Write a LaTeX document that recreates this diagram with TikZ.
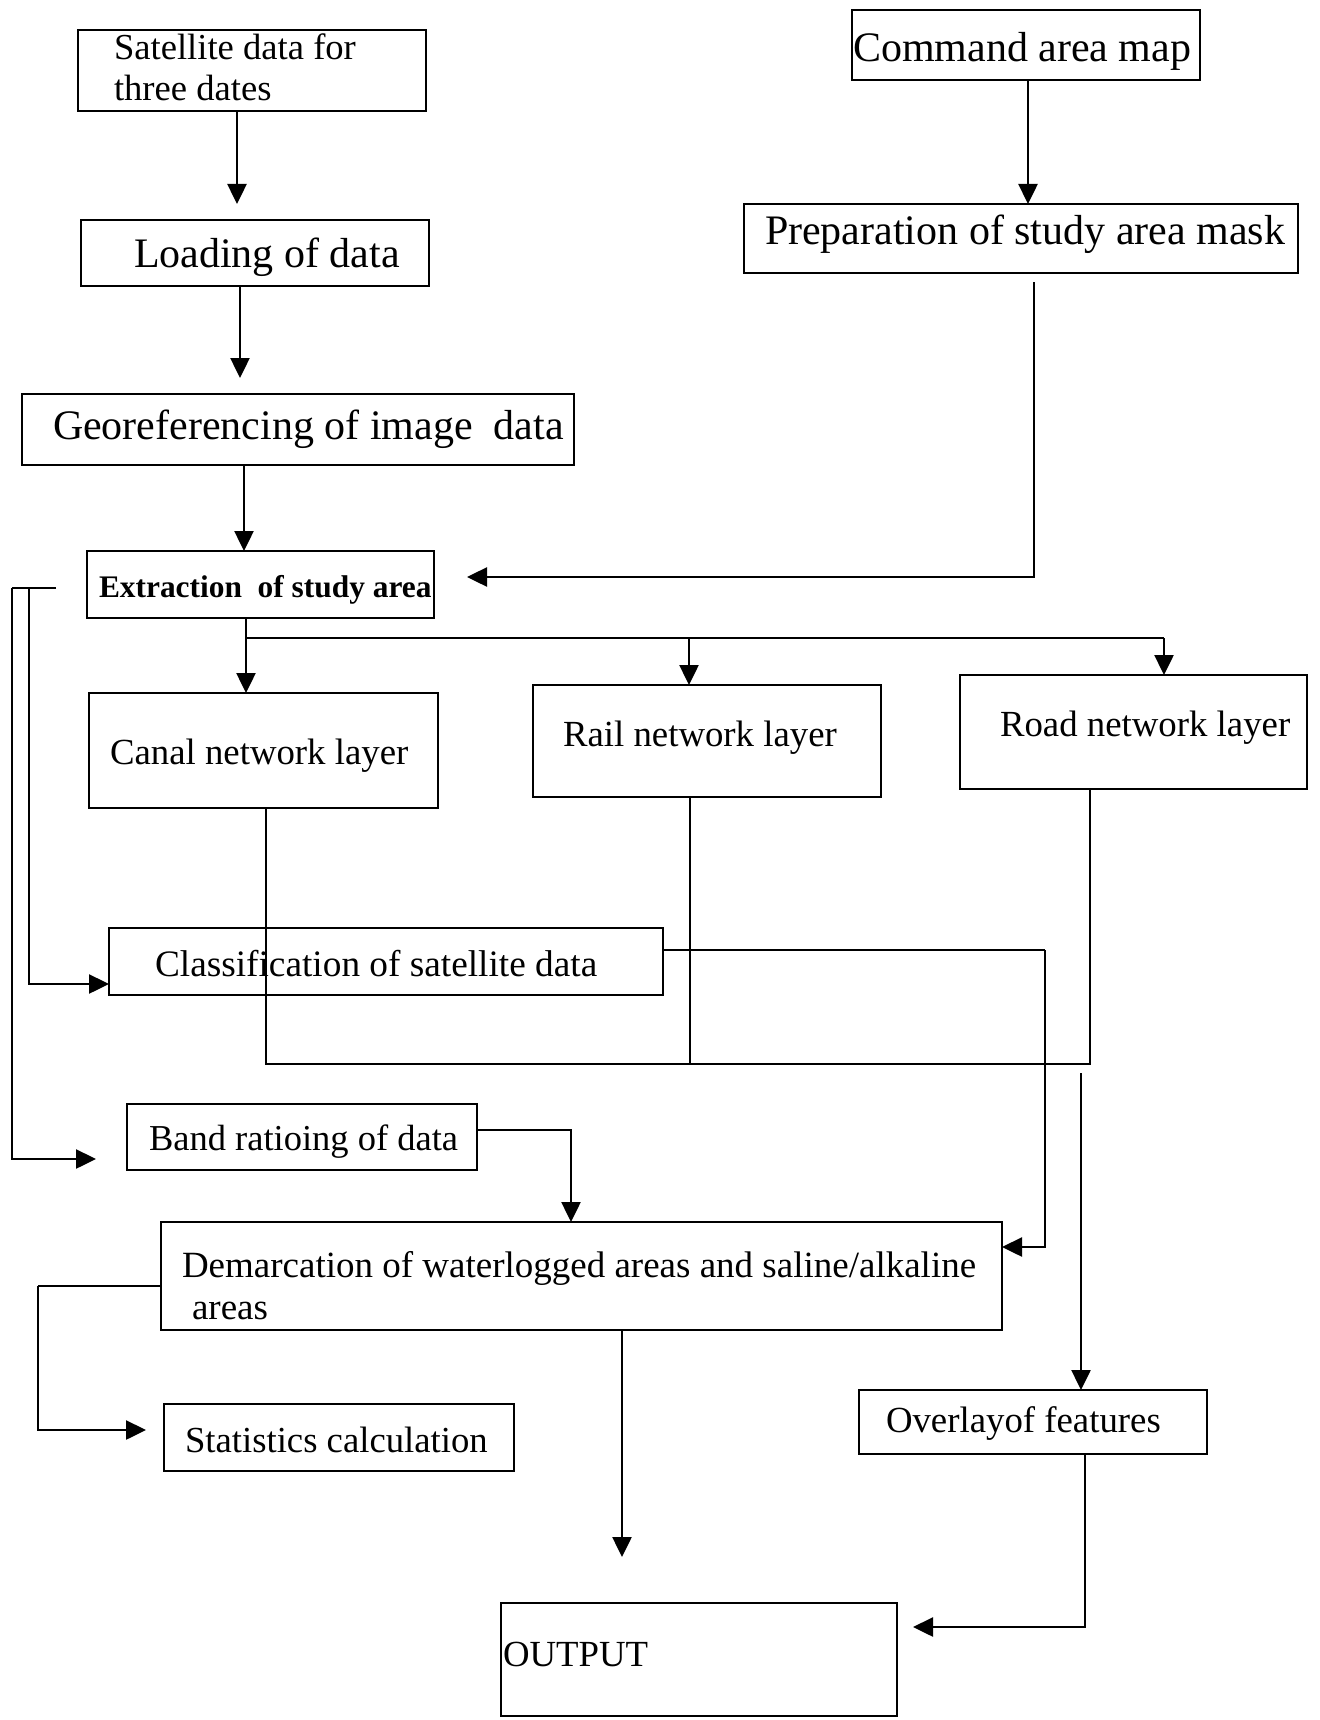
\documentclass[tikz,border=0pt]{standalone}
\usepackage{fontspec}
\setmainfont{Liberation Serif}
\usetikzlibrary{arrows.meta,calc}
\newcommand{\mybox}[5]{%
  \pgfmathsetmacro{\bxw}{#4-#2}%
  \pgfmathsetmacro{\bxh}{#5-#3}%
  \node[box, minimum width=\bxw pt, minimum height=\bxh pt] (#1) at ({(#2+#4)/2},{(#3+#5)/2}) {};}
\newcommand{\boxtext}[5]{%
  \node[txt, font=\fontsize{#4}{#4}\selectfont] (#1) at (#2,#3) {#5};}
\begin{document}
\begin{tikzpicture}[x=1pt,y=-1pt,
  box/.style={draw, line width=2.5pt, inner sep=0pt, outer sep=0pt, rectangle},
  txt/.style={anchor=base west, inner sep=0pt, outer sep=0pt},
  arr/.style={line width=2.5pt, -{Triangle[length=20pt,width=19pt]}},
  ln/.style={line width=2.5pt}]
\fill[white] (0,0) rectangle (1319,1720);
\useasboundingbox (0,0) rectangle (1319,1720);

% boxes
\mybox{sat}{78}{30}{426}{111}
\mybox{load}{81}{220}{429}{286}
\mybox{geo}{22}{394}{574}{465}
\mybox{ext}{87}{551}{434}{618}
\mybox{cmd}{852}{10}{1200}{80}
\mybox{prep}{744}{204}{1298}{273}
\mybox{canal}{89}{693}{438}{808}
\mybox{rail}{533}{685}{881}{797}
\mybox{road}{960}{675}{1307}{789}
\mybox{cls}{109}{928}{663}{995}
\mybox{band}{127}{1104}{477}{1170}
\mybox{dem}{161}{1222}{1002}{1330}
\mybox{stat}{164}{1404}{514}{1471}
\mybox{ovl}{859}{1390}{1207}{1454}
\mybox{out}{501}{1603}{897}{1716}

% texts
\boxtext{tsatA}{114}{60}{36.6}{Satellite data for}
\boxtext{tsatB}{114}{101}{36.6}{three dates}
\boxtext{tload}{134}{267}{42}{Loading of data}
\boxtext{tgeo}{53}{439}{42}{Georeferencing of image\ \ data}
\boxtext{text}{99}{597}{31.4}{\bfseries Extraction\ \ of study area}
\boxtext{tcmd}{853}{62}{42}{Command area map}
\boxtext{tprep}{765}{245}{42}{Preparation of study area mask}
\boxtext{tcanal}{110}{764}{36.8}{Canal network layer}
\boxtext{trail}{563}{746}{36.8}{Rail network layer}
\boxtext{troad}{1000}{736}{36.8}{Road network layer}
\boxtext{tcls}{155}{976}{37.3}{Classification of satellite data}
\boxtext{tband}{149}{1150}{36.5}{Band ratioing of data}
\boxtext{tdemA}{182}{1277}{37}{Demarcation of waterlogged areas and saline/alkaline}
\boxtext{tdemB}{192}{1319}{37}{areas}
\boxtext{tstat}{185}{1452}{36.7}{Statistics calculation}
\boxtext{tovl}{886}{1432}{36.8}{Overlayof features}
\boxtext{tout}{503}{1666}{36.8}{OUTPUT}

% named helper coordinates
\coordinate (br) at (246,638);
\coordinate (mergeL) at (266,1064);
\coordinate (mergeR) at (1090,1064);
\coordinate (ovin) at (1081,1073);
\coordinate (stub) at (56,588);
\coordinate (lo) at (12,588);
\coordinate (li) at (29,588);
\coordinate (cr) at (1045,950);
\coordinate (dl) at (38,1286);

% connectors
\draw[arr, shorten >=16pt] (237,0 |- sat.south) -- (237,0 |- load.north);
\draw[arr, shorten >=16pt] (240,0 |- load.south) -- (240,0 |- geo.north);
\draw[arr] (244,0 |- geo.south) -- (244,0 |- ext.north);
\draw[arr] (1028,0 |- cmd.south) -- (1028,0 |- prep.north);
\draw[arr, shorten <=9pt, shorten >=33pt] (1034,0 |- prep.south) |- ([yshift=7.5pt]ext.east);

\draw[arr] (br |- ext.south) -- (br |- canal.north);
\draw[ln] (br) -- (1164,638);
\draw[arr] (689,638) -- (689,0 |- rail.north);
\draw[arr] (1164,638) -- (1164,0 |- road.north);

\draw[ln] (canal.south -| mergeL) -- (mergeL) -- (mergeR) -- (road.south -| mergeR);
\draw[ln] (690,0 |- rail.south) -- (690,0 |- mergeL);
\draw[arr] (ovin) -- (ovl.north -| ovin);

\draw[ln] (stub) -- (lo);
\draw[arr, shorten >=31pt] (lo) |- ([yshift=-22pt]band.west);
\draw[arr] (li) |- ([yshift=-22.5pt]cls.west);

\draw[ln] ([yshift=11.5pt]cls.east) -- (cr);
\draw[arr] (cr) |- ([yshift=29pt]dem.east);
\draw[arr] ([yshift=7pt]band.east) -| (571,0 |- dem.north);
\draw[ln] ([yshift=-10pt]dem.west) -- (dl);
\draw[arr, shorten >=18pt] (dl) |- ([yshift=7.5pt]stat.west);
\draw[arr, shorten >=46pt] (622,0 |- dem.south) -- (622,0 |- out.north);
\draw[arr, shorten >=16pt] (1085,0 |- ovl.south) |- ([yshift=32.5pt]out.east);
\end{tikzpicture}
\end{document}
